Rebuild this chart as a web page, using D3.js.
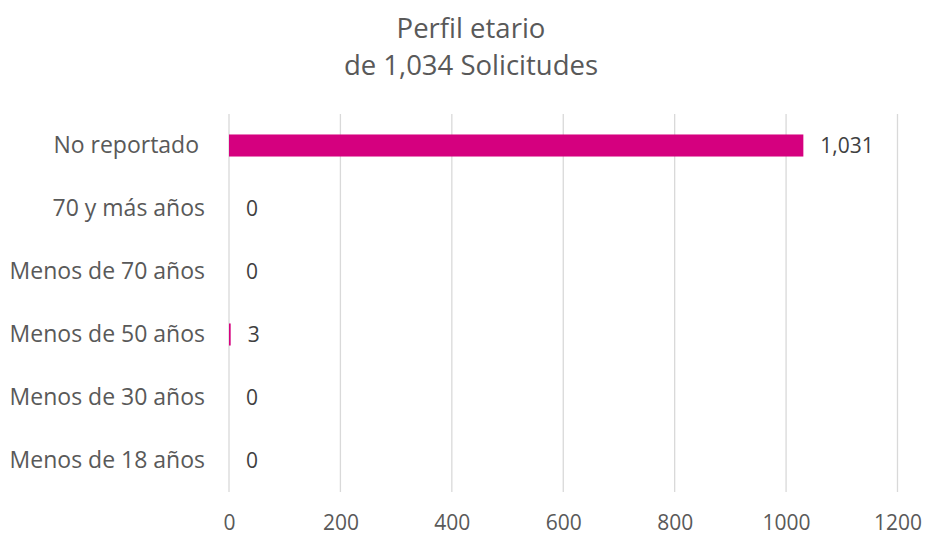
<!DOCTYPE html>
<html><head><meta charset="utf-8">
<script src="https://cdn.jsdelivr.net/npm/d3@7"></script>
<style>body{margin:0;background:#fff}text{font-family:"Segoe UI","Open Sans",sans-serif;white-space:pre}</style>
</head><body><svg id="c" width="925" height="537"></svg>
<script>
const categories = ["No reportado ", "70 y más años", "Menos de 70 años", "Menos de 50 años", "Menos de 30 años", "Menos de 18 años"];
const values = [1031, 0, 0, 3, 0, 0];
const valueLabels = ["1,031", "0", "0", "3", "0", "0"];
const ticks = [0, 200, 400, 600, 800, 1000, 1200];
const titleLines = ["Perfil etario", "de 1,034 Solicitudes"];

const svg = d3.select("#c");
const x = d3.scaleLinear().domain([0, 1200]).range([229, 897.5]);
const y = d3.scaleBand().domain(categories).range([114, 492]).paddingInner(0.65).paddingOuter(0.325);

svg.selectAll("text.title").data(titleLines).join("text")
  .attr("x", 471).attr("y", (d,i)=>38+i*37).attr("text-anchor","middle")
  .attr("font-size", 27.5).attr("fill","#595959").text(d=>d);

svg.append("g").selectAll("line").data(ticks).join("line")
  .attr("x1", d=>x(d)).attr("x2", d=>x(d)).attr("y1",114).attr("y2",492)
  .attr("stroke","#d9d9d9").attr("stroke-width",1.3);

const xa = svg.append("g").attr("transform","translate(0,492)")
  .call(d3.axisBottom(x).tickValues(ticks).tickSize(0).tickPadding(23.5).tickFormat(d3.format("d")));
xa.select(".domain").remove();
xa.selectAll("text").attr("font-size",21).attr("fill","#595959").attr("font-family",'"Segoe UI","Open Sans",sans-serif');

const ya = svg.append("g").attr("transform","translate(205,0)")
  .call(d3.axisLeft(y).tickSize(0).tickPadding(0));
ya.select(".domain").remove();
ya.selectAll("text").attr("font-size",23).attr("fill","#595959").attr("font-family",'"Segoe UI","Open Sans",sans-serif');

svg.append("g").selectAll("rect").data(values).join("rect")
  .attr("x", x(0)).attr("y",(d,i)=>y(categories[i])).attr("height", y.bandwidth())
  .attr("width", d=>x(d)-x(0)).attr("fill","#D5007F");

svg.append("g").selectAll("text").data(values).join("text")
  .attr("x", d=>x(d)+17).attr("y",(d,i)=>y(categories[i])+y.bandwidth()/2).attr("dy","0.35em")
  .attr("font-size",21).attr("fill","#404040").text((d,i)=>valueLabels[i]);
</script></body></html>
